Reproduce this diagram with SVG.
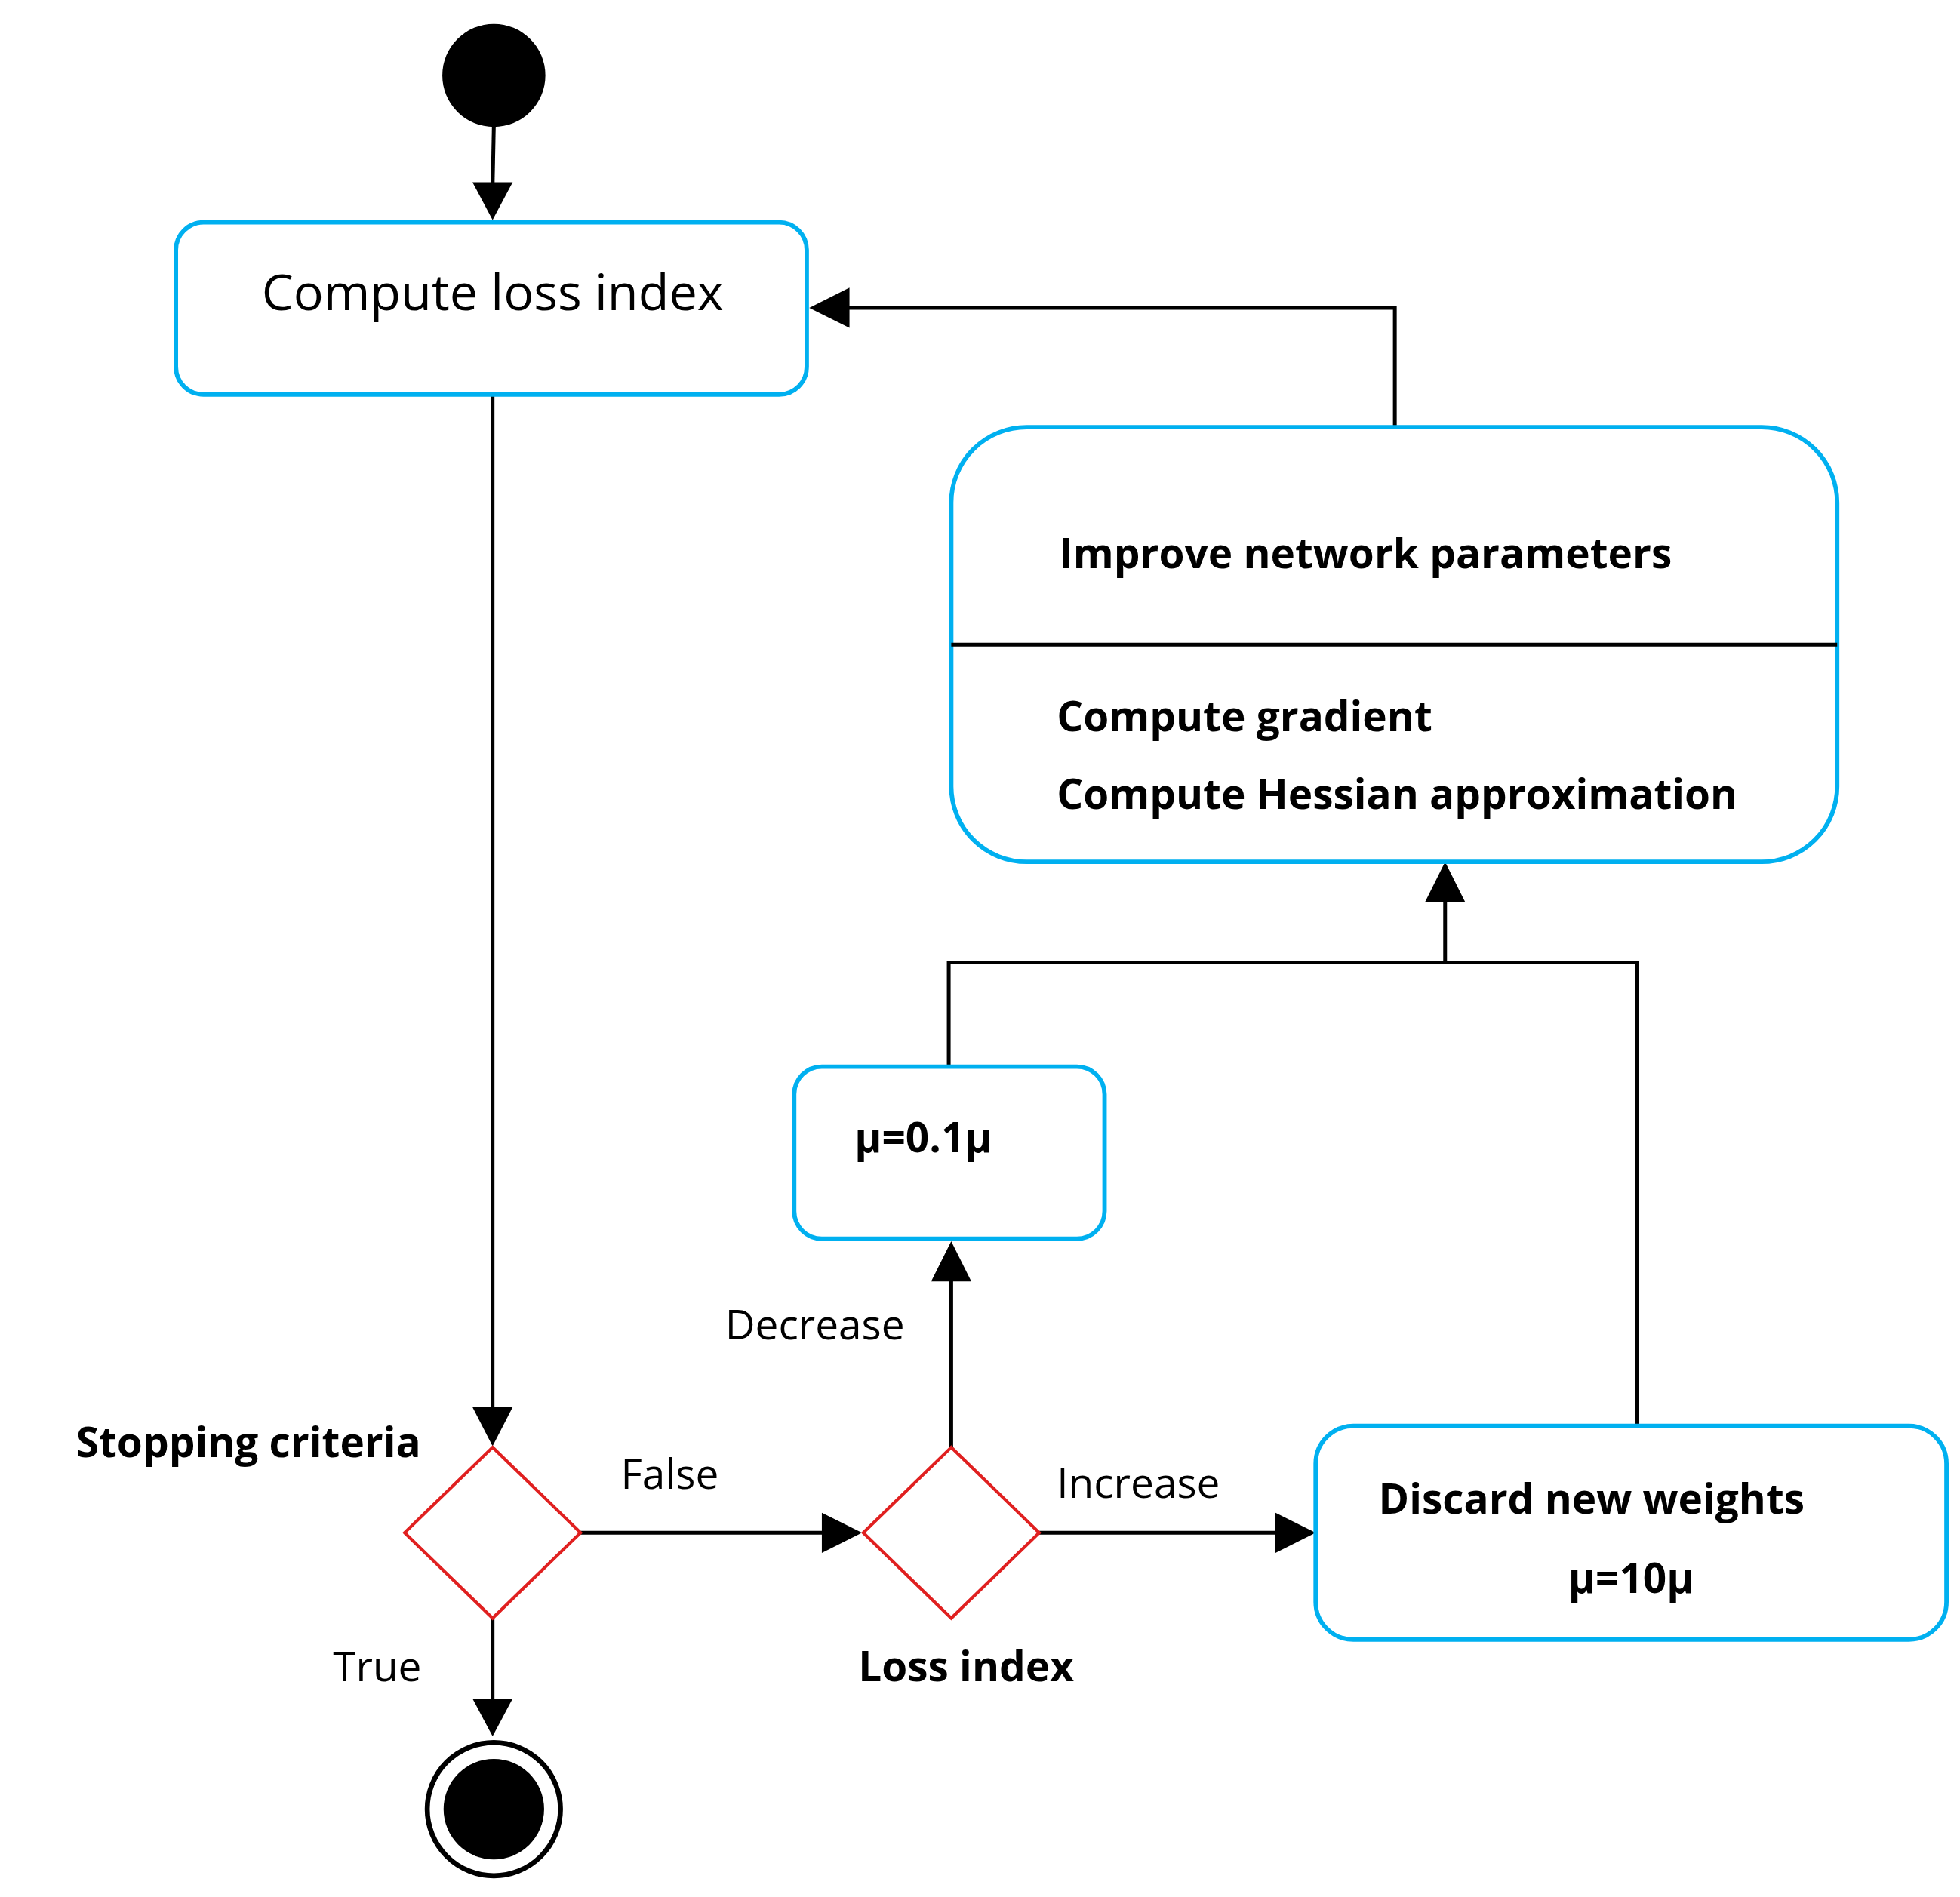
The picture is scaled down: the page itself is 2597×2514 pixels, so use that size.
<svg xmlns="http://www.w3.org/2000/svg" width="2597" height="2514" viewBox="0 0 2597 2514">
<defs>
<marker id="ah" viewBox="0 0 10 10" refX="10" refY="5" markerWidth="10" markerHeight="10" markerUnits="userSpaceOnUse" orient="auto"><path d="M0,0 L10,5 L0,10 z" fill="#000"/></marker>
<style>
.box{fill:#fff;stroke:#00b0f0;stroke-width:3.5}
.dia{fill:#fff;stroke:#e02020;stroke-width:2.5}
.ln{fill:none;stroke:#000;stroke-width:3}
.t{font-family:"Open Sans","Liberation Sans",sans-serif;fill:#000}
.b{font-weight:bold;font-size:33px}
.n{font-size:33px}
</style>
</defs>
<rect width="2597" height="2514" fill="#fff"/>
<g transform="scale(1.665)">
<g id="connectors">
<path class="ln" d="M393,100 L392,150"/><path d="M376,145 L408,145 L392,175 z"/>
<path class="ln" d="M1110,340 L1110,245 L672,245"/><path d="M676,229 L676,261 L644,245 z"/>
<path class="ln" d="M392,314 L392,1125"/><path d="M376,1120 L408,1120 L392,1151 z"/>
<path class="ln" d="M462,1220 L660,1220"/><path d="M654,1204 L654,1236 L686,1220 z"/>
<path class="ln" d="M757,1152 L757,1018"/><path d="M741,1020 L773,1020 L757,988 z"/>
<path class="ln" d="M755,849 L755,766 L1303,766 L1303,1137"/>
<path class="ln" d="M1150,766 L1150,716"/><path d="M1134,718 L1166,718 L1150,686 z"/>
<path class="ln" d="M827,1220 L1020,1220"/><path d="M1015,1204 L1015,1236 L1047,1220 z"/>
<path class="ln" d="M392,1288 L392,1355"/><path d="M376,1352 L408,1352 L392,1382 z"/>
<text class="t n" x="494" y="1185">False</text>
<text class="t n" x="577" y="1066">Decrease</text>
<text class="t n" x="841" y="1192">Increase</text>
<text class="t n" x="265" y="1338">True</text>
</g>
<g id="start"><circle cx="393" cy="60" r="41" fill="#000"/></g>
<g id="compute-loss"><rect class="box" x="140" y="177" width="502" height="137" rx="22"/>
<text class="t" x="392" y="247" font-size="40" text-anchor="middle">Compute loss index</text></g>
<g id="improve"><rect class="box" x="757" y="340" width="705" height="346" rx="60"/>
<line x1="757" y1="513" x2="1462" y2="513" stroke="#000" stroke-width="3"/>
<text class="t b" x="843" y="452">Improve network parameters</text>
<text class="t b" x="841" y="582">Compute gradient</text>
<text class="t b" x="841" y="644">Compute Hessian approximation</text></g>
<g id="mu-dec"><rect class="box" x="632" y="849" width="247" height="137" rx="22"/>
<text class="t b" x="680" y="917">μ=0.1μ</text></g>
<g id="discard"><rect class="box" x="1047" y="1135" width="502" height="170" rx="30"/>
<text class="t b" x="1097" y="1205">Discard new weights</text>
<text class="t b" x="1298" y="1268" text-anchor="middle">μ=10μ</text></g>
<g id="stopping"><path class="dia" d="M392,1152 L462,1220 L392,1288 L322,1220 z"/>
<text class="t b" x="335" y="1160" text-anchor="end">Stopping criteria</text></g>
<g id="loss-index"><path class="dia" d="M757,1152 L827,1220 L757,1288 L687,1220 z"/>
<text class="t b" x="683" y="1338">Loss index</text></g>
<g id="end"><circle cx="393" cy="1440" r="53" fill="#fff" stroke="#000" stroke-width="4"/><circle cx="393" cy="1440" r="40" fill="#000"/></g>
</g>
</svg>
